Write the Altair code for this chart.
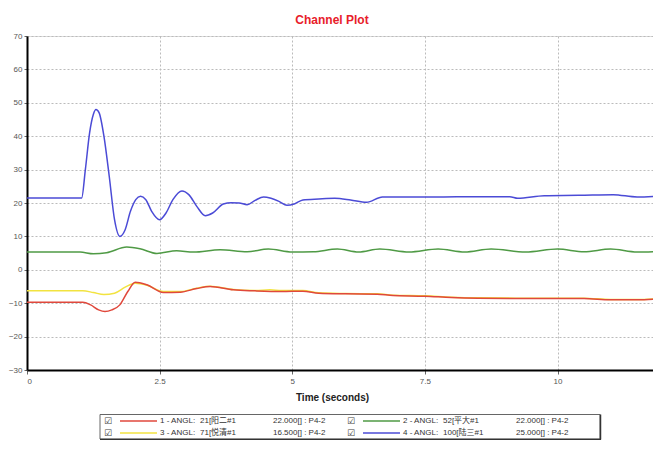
import altair as alt
import pandas as pd

# ---- data ----
series_ids = ["1 - ANGL:", "2 - ANGL:", "3 - ANGL:", "4 - ANGL:"]
series_names = ["21[阳二#1", "52[平大#1", "71[悦清#1", "100[陆三#1"]
series_ratings = ["22.000[] : P4-2", "22.000[] : P4-2", "16.500[] : P4-2", "25.000[] : P4-2"]
colors = ["#e0483c", "#4f9a45", "#f2e340", "#4b4bd6"]

t1 = [0, 1.05, 1.2, 1.35, 1.47, 1.6, 1.75, 1.9, 2.04, 2.26, 2.57, 2.89, 3.2, 3.45, 3.89, 4.3, 4.8, 5.2, 5.5,
      6.0, 6.6, 6.9, 7.5, 8.0, 8.5, 9.5, 10.5, 11.0, 11.5, 12]
v1 = [-9.7, -9.7, -10.5, -12, -12.5, -12, -10.5, -6.5, -3.7, -4.5, -6.8, -6.7, -5.6, -5.0, -6.0, -6.3, -6.5,
      -6.4, -7.0, -7.2, -7.3, -7.7, -7.9, -8.3, -8.5, -8.6, -8.6, -9.0, -9.0, -8.6]

t2 = [0, 1.0, 1.25, 1.5, 1.88, 2.13, 2.45, 2.82, 3.14, 3.64, 4.15, 4.55, 5.0, 5.4, 5.85, 6.25, 6.65, 7.2, 7.75,
      8.25, 8.75, 9.4, 10.0, 10.5, 11.0, 11.5, 12]
v2 = [5.3, 5.3, 4.8, 5.1, 6.8, 6.3, 4.9, 5.7, 5.3, 6.0, 5.4, 6.2, 5.3, 5.4, 6.2, 5.3, 6.2, 5.3, 6.2, 5.3, 6.2,
      5.3, 6.2, 5.4, 6.2, 5.3, 5.6]

t3 = [0, 1.05, 1.25, 1.45, 1.65, 1.85, 2.04, 2.26, 2.57, 2.89, 3.2, 3.45, 3.89, 4.3, 4.58, 4.8, 5.2, 5.5, 6.0,
      6.6, 6.9, 7.5, 8.0, 8.5, 9.5, 10.5, 11.0, 11.5, 12]
v3 = [-6.3, -6.3, -6.8, -7.4, -7.0, -5.2, -4.0, -4.6, -6.5, -6.5, -5.5, -4.9, -5.9, -6.2, -6.0, -6.2, -6.2,
      -6.9, -7.1, -7.2, -7.6, -7.8, -8.2, -8.4, -8.5, -8.5, -8.9, -8.9, -8.5]

t4 = [0, 1.03, 1.1, 1.18, 1.25, 1.3, 1.36, 1.45, 1.55, 1.65, 1.75, 1.85, 1.95, 2.05, 2.14, 2.24, 2.35, 2.5,
      2.62, 2.75, 2.92, 3.05, 3.2, 3.36, 3.5, 3.7, 3.85, 4.0, 4.15, 4.3, 4.46, 4.6, 4.75, 4.9, 5.05, 5.2, 5.5,
      5.8, 6.1, 6.4, 6.7, 7.2, 7.8, 8.4, 9.1, 9.25, 9.75, 10.4, 11.05, 11.5, 12]
v4 = [21.5, 21.5, 30, 41, 46.5, 48, 47, 40, 28, 15, 10, 12, 17.5, 21, 22, 21, 17.5, 15, 17, 21, 23.6, 22.5,
      19, 16.2, 17, 19.7, 20.1, 20, 19.5, 20.8, 21.8, 21.4, 20.5, 19.3, 19.8, 20.9, 21.2, 21.4, 20.9, 20.2,
      21.8, 21.8, 21.8, 21.9, 21.9, 21.4, 22.2, 22.3, 22.5, 21.8, 22.2]

x_ticks = [0, 2.5, 5, 7.5, 10]
y_ticks = [-30, -20, -10, 0, 10, 20, 30, 40, 50, 60, 70]

frames = []
for sid, t, v in zip(series_ids, [t1, t2, t3, t4], [v1, v2, v3, v4]):
    frames.append(pd.DataFrame({"t": t, "v": v, "series": sid}))
df = pd.concat(frames, ignore_index=True)

FONT = "Liberation Sans, Noto Sans CJK SC, sans-serif"

color = alt.Color("series:N", scale=alt.Scale(domain=series_ids, range=colors), legend=None)

x = alt.X("t:Q", scale=alt.Scale(domain=[0, 11.8], nice=False, zero=False),
          axis=alt.Axis(values=x_ticks, format=".1~f", title="Time (seconds)",
                        grid=True, gridDash=[2, 2], gridColor="#bbb",
                        domainColor="black", domainWidth=2, tickColor="#666", tickSize=4,
                        labelPadding=3, labelFont=FONT, labelFontSize=8, labelColor="#555",
                        titleFont=FONT, titleFontSize=10, titleFontWeight="bold", titleColor="#222",
                        titleX=305, titleY=27, titleAnchor="start", titleAlign="center",
                        titleBaseline="middle"))
y = alt.Y("v:Q", scale=alt.Scale(domain=[-30, 70], nice=False, zero=False),
          axis=alt.Axis(values=y_ticks, title=None, grid=True, gridDash=[2, 2], gridColor="#bbb",
                        domainColor="black", domainWidth=2, tickColor="#666", tickSize=3,
                        labelPadding=2, labelFont=FONT, labelFontSize=8, labelColor="#555"))

base = alt.Chart(df)
layers = []
for i in [2, 0, 1, 3]:
    layers.append(
        base.transform_filter(alt.datum.series == series_ids[i])
        .mark_line(strokeWidth=1.5, interpolate="monotone", clip=True)
        .encode(x=x, y=y, color=color)
    )

# ---- legend box drawn below the plot (two rows, two columns) ----
one = alt.Data(values=[{"a": 1}])
legend_parts = [
    alt.Chart(one).mark_rect(fill="white", stroke="#666", strokeWidth=1).encode(
        x=alt.value(73), x2=alt.value(573), y=alt.value(378.5), y2=alt.value(403)),
    alt.Chart(one).mark_rule(color="#333", strokeWidth=1.5).encode(
        x=alt.value(573.5), y=alt.value(378.5), y2=alt.value(403.5)),
    alt.Chart(one).mark_rule(color="#333", strokeWidth=1.5).encode(
        x=alt.value(73), x2=alt.value(574), y=alt.value(403.5)),
]
col_x = [0, 243]
row_y = [385, 397]
for i in range(4):
    cx = col_x[i % 2]
    ry = row_y[i // 2]
    legend_parts.append(
        alt.Chart(one).mark_text(text="☑", font="DejaVu Sans", fontSize=9, color="#444",
                                 align="center", baseline="middle")
        .encode(x=alt.value(81 + cx), y=alt.value(ry)))
    legend_parts.append(
        alt.Chart(one).mark_rule(color=colors[i], strokeWidth=1.3)
        .encode(x=alt.value(93 + cx), x2=alt.value(130 + cx), y=alt.value(ry)))
    for txt, dx in [(series_ids[i], 133), (series_names[i], 173), (series_ratings[i], 246)]:
        legend_parts.append(
            alt.Chart(one).mark_text(text=txt, font=FONT, fontSize=8, color="#333",
                                     align="left", baseline="middle")
            .encode(x=alt.value(dx + cx), y=alt.value(ry)))

chart = alt.layer(*layers, *legend_parts).properties(
    width=626, height=334,
    autosize=alt.AutoSizeParams(type="none"),
    padding={"left": 19, "top": 28, "right": 0, "bottom": 70},
    title=alt.TitleParams("Channel Plot", color="#e8202a", fontSize=12, fontWeight="bold",
                          font=FONT, anchor="middle", dx=-8, offset=5),
).configure_view(stroke="#999", strokeWidth=1).configure(background="white")

chart.save("out.html", embed_options={"renderer": "svg", "actions": False})
